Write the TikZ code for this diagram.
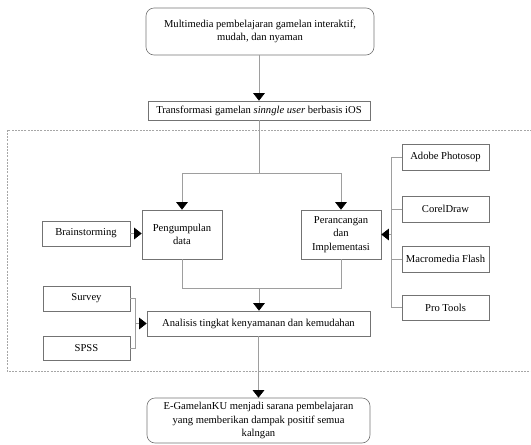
\documentclass[tikz,border=0pt]{standalone}
\usepackage{fontspec}
\setmainfont{Liberation Serif}
\usetikzlibrary{arrows.meta}
\definecolor{boxline}{gray}{0.45}
\definecolor{conline}{gray}{0.62}
\tikzset{
  box/.style={draw=boxline, line width=0.6pt, align=center, inner sep=1pt,
    font=\fontsize{10.6}{13.2}\selectfont},
  rbox/.style={box, rounded corners=8pt},
  con/.style={draw=conline, line width=0.6pt},
  arr/.style={con, -{Triangle[width=11.5pt,length=7.5pt,color=black]}},
}
\begin{document}
\begin{tikzpicture}[x=1pt,y=-1pt]
\useasboundingbox (0,0) rectangle (531,445);
% dashed frame
\draw[draw=gray!70, dashed, dash pattern=on 2pt off 1.2pt, line width=0.5pt]
  (532,130) -- (7,130) -- (7,371) -- (532,371);

\node[rbox, minimum width=228pt, minimum height=47pt] (top) at (260,31.5)
  {Multimedia pembelajaran gamelan interaktif,\\mudah, dan nyaman};
\node[box, minimum width=222pt, minimum height=19pt] (trans) at (259,110.5)
  {Transformasi gamelan \textit{sinngle user} berbasis iOS};
\node[box, minimum width=80pt, minimum height=49pt] (peng) at (182,234.5)
  {Pengumpulan\\data};
\node[box, minimum width=80pt, minimum height=49pt] (peran) at (341,234.5)
  {Perancangan\\dan\\Implementasi};
\node[box, minimum width=88pt, minimum height=25pt] (brain) at (86,233.5)
  {Brainstorming};
\node[box, minimum width=87pt, minimum height=26pt] (adobe) at (445.5,157)
  {Adobe Photosop};
\node[box, minimum width=87pt, minimum height=26pt] (corel) at (445.5,209)
  {CorelDraw};
\node[box, minimum width=87pt, minimum height=26pt] (macro) at (445.5,259)
  {Macromedia Flash};
\node[box, minimum width=87pt, minimum height=25pt] (pro) at (445.5,307.5)
  {Pro Tools};
\node[box, minimum width=87pt, minimum height=25pt] (survey) at (86.5,298.5)
  {Survey};
\node[box, minimum width=87pt, minimum height=24pt] (spss) at (86.5,348)
  {SPSS};
\node[box, minimum width=223pt, minimum height=25pt] (anal) at (258.5,323.5)
  {Analisis tingkat kenyamanan dan kemudahan};
\node[rbox, minimum width=223pt, minimum height=45pt] (bot) at (258.5,420.5)
  {E-GamelanKU menjadi sarana pembelajaran\\yang memberikan dampak positif semua\\kalngan};

% coordinates for junctions
\coordinate (jt) at (259,173);
\coordinate (jb) at (259,288);
\coordinate (jr) at (391,234.5);
\coordinate (jl) at (135,323.5);

\draw[arr] (top.south -| trans.north) -- (trans.north);
\draw[con] (trans.south) -- (jt);
\draw[con] (peng.north |- jt) -- (peran.north |- jt);
\draw[arr] (peng.north |- jt) -- (peng.north);
\draw[arr] (peran.north |- jt) -- (peran.north);
\draw[arr] (brain.east) -- (peng.west |- brain.east);

\draw[con] (peng.south) -- (peng.south |- jb) -- (peran.south |- jb) -- (peran.south);
\draw[arr] (jb) -- (anal.north -| jb);

\draw[con] (adobe.west) -- (adobe.west -| jr) -- (pro.west -| jr) -- (pro.west);
\draw[con] (corel.west) -- (corel.west -| jr);
\draw[con] (macro.west) -- (macro.west -| jr);
\draw[arr] (jr) -- (peran.east);

\draw[con] (survey.east) -- (survey.east -| jl) -- (spss.east -| jl) -- (spss.east);
\draw[arr] (jl) -- (anal.west);

\draw[arr] (anal.south) -- (bot.north);
\end{tikzpicture}
\end{document}
